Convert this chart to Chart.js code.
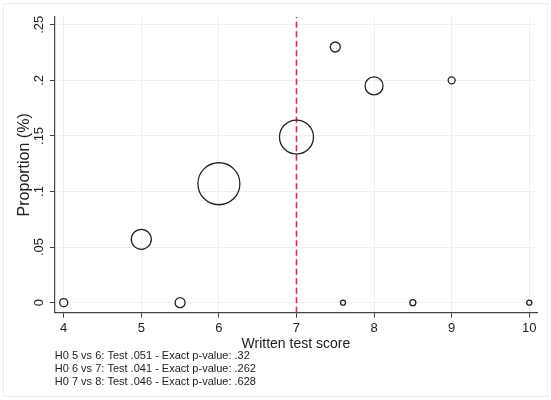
<!DOCTYPE html>
<html>
<head>
<meta charset="utf-8">
<script src="https://cdn.jsdelivr.net/npm/chart.js@4/dist/chart.umd.min.js"></script>
<style>
  body { margin: 0; background: #fff; }
</style>
</head>
<body>
<canvas id="chart" width="551" height="400"></canvas>
<script>
// Data
const scores = [4, 5, 5.5, 6, 7, 7.5, 7.6, 8, 8.5, 9, 10];
const proportions = [0, 0.057, 0, 0.107, 0.149, 0.23, 0, 0.195, 0, 0.2, 0];
const bubbleSizes = [4, 10, 5, 21, 17, 5, 2.5, 9, 3, 3.5, 2.5];
const cutoff = 7;
const footnotes = [
  "H0 5 vs 6: Test .051 - Exact p-value: .32",
  "H0 6 vs 7: Test .041 - Exact p-value: .262",
  "H0 7 vs 8: Test .046 - Exact p-value: .628"
];

const xMin = 3.885, xMax = 10.1;
const yMin = -0.009, yMax = 0.257;

const font = "'Liberation Sans', Arial, sans-serif";

// white background + faint outer frame
const frame = {
  id: "frame",
  beforeDraw(chart) {
    const c = chart.ctx;
    c.save();
    c.fillStyle = "#fff";
    c.fillRect(0, 0, chart.width, chart.height);
    c.strokeStyle = "#ececec";
    c.lineWidth = 1;
    c.strokeRect(3.5, 3.5, chart.width - 7, chart.height - 7);
    c.restore();
  }
};

const ctx = document.getElementById("chart").getContext("2d");

new Chart(ctx, {
  type: "bubble",
  data: {
    datasets: [
      {
        label: "Proportion",
        data: scores.map((s, i) => ({ x: s, y: proportions[i], r: bubbleSizes[i] })),
        backgroundColor: "rgba(0,0,0,0)",
        borderColor: "#222",
        borderWidth: 1.3
      },
      {
        type: "line",
        label: "cutoff",
        data: [{ x: cutoff, y: yMin }, { x: cutoff, y: yMax }],
        borderColor: "rgb(222, 40, 92)",
        borderWidth: 1.6,
        borderDash: [6, 3.5],
        pointRadius: 0,
        fill: false
      }
    ]
  },
  plugins: [frame],
  options: {
    responsive: false,
    animation: false,
    layout: { autoPadding: false, padding: { left: 13, right: 14, top: 17, bottom: 12 } },
    plugins: {
      legend: { display: false },
      tooltip: { enabled: false },
      subtitle: {
        display: true,
        position: "bottom",
        align: "start",
        fullSize: false,
        text: footnotes,
        color: "#222",
        font: { family: font, size: 11, lineHeight: 1.18 },
        padding: { top: 0, bottom: 0 }
      }
    },
    scales: {
      x: {
        type: "linear",
        min: xMin,
        max: xMax,
        ticks: {
          stepSize: 1,
          includeBounds: false,
          color: "#222",
          font: { family: font, size: 13 },
          padding: 3
        },
        grid: { color: "#efefef", tickColor: "#444", tickLength: 5 },
        border: { color: "#444", width: 1.2 },
        title: {
          display: true,
          text: "Written test score",
          color: "#222",
          font: { family: font, size: 14 },
          padding: { top: -4, bottom: -3 }
        }
      },
      y: {
        type: "linear",
        min: yMin,
        max: yMax,
        ticks: {
          stepSize: 0.05,
          includeBounds: false,
          minRotation: 90,
          maxRotation: 90,
          crossAlign: "center",
          color: "#222",
          font: { family: font, size: 13 },
          padding: 1,
          callback: v => String(+v.toFixed(2)).replace(/^0\./, ".")
        },
        grid: { color: "#efefef", tickColor: "#444", tickLength: 5 },
        border: { color: "#444", width: 1.2 },
        title: {
          display: true,
          text: "Proportion (%)",
          color: "#222",
          font: { family: font, size: 16 },
          padding: { top: 2, bottom: -2 }
        }
      }
    }
  }
});
</script>
</body>
</html>
